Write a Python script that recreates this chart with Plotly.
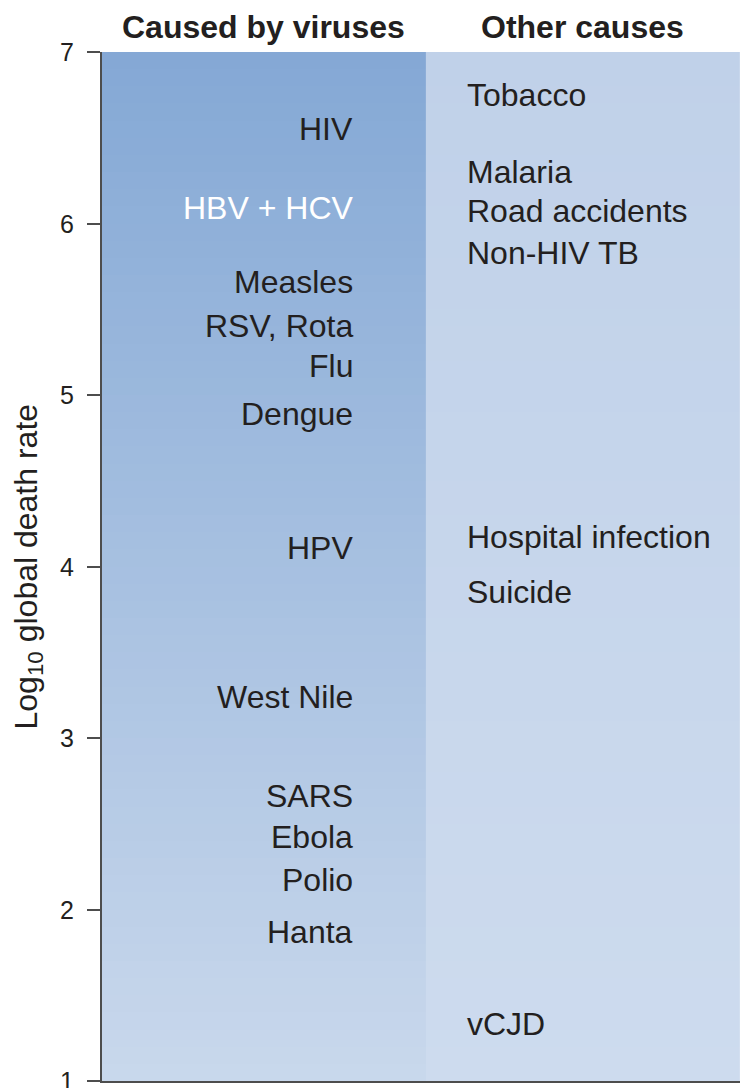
import numpy as np
import plotly.graph_objects as go

# log10 global death rate
virus_names = ['HIV', 'HBV + HCV', 'Measles', 'RSV, Rota', 'Flu', 'Dengue',
               'HPV', 'West Nile', 'SARS', 'Ebola', 'Polio', 'Hanta']
virus_rates = [6.55, 6.09, 5.66, 5.40, 5.17, 4.89,
               4.11, 3.24, 2.66, 2.42, 2.17, 1.87]

other_names = ['Tobacco', 'Malaria', 'Road accidents', 'Non-HIV TB',
               'Hospital infection', 'Suicide', 'vCJD']
other_rates = [6.75, 6.30, 6.07, 5.83, 4.17, 3.85, 1.33]

column_titles = ['Caused by viruses', 'Other causes']
y_ticks = [1, 2, 3, 4, 5, 6, 7]

FONT = 'Liberation Sans, Arial, Helvetica, sans-serif'
TEXT = '#231f20'
AXIS = '#4d4d4d'

# vertical shading bands for the two columns
edges = np.linspace(1, 7, 61)
centres = (edges[:-1] + edges[1:]) / 2
z = [[c] for c in centres]

fig = go.Figure()
fig.add_trace(go.Heatmap(
    x=[0, 1], y=edges, z=z, zmin=1, zmax=7,
    colorscale=[[0, '#c9d8ec'], [1, '#84a8d5']],
    showscale=False, hoverinfo='skip'))
fig.add_trace(go.Heatmap(
    x=[1, 1.97], y=edges, z=z, zmin=1, zmax=7,
    colorscale=[[0, '#cddbee'], [1, '#c0d1e9']],
    showscale=False, hoverinfo='skip'))

annotations = []
for name, rate in zip(virus_names, virus_rates):
    annotations.append(dict(
        x=0.782, y=rate, xref='x', yref='y', text=name, showarrow=False,
        xanchor='right', yanchor='middle',
        font=dict(size=32, family=FONT,
                  color='white' if name == 'HBV + HCV' else TEXT)))
for name, rate in zip(other_names, other_rates):
    annotations.append(dict(
        x=1.12, y=rate, xref='x', yref='y', text=name, showarrow=False,
        xanchor='left', yanchor='middle',
        font=dict(size=32, family=FONT, color=TEXT)))
for title, xc in zip(column_titles, [0.5, 1.485]):
    annotations.append(dict(
        x=xc, y=1, xref='x', yref='paper', yshift=25, text='<b>%s</b>' % title,
        showarrow=False, xanchor='center', yanchor='middle',
        font=dict(size=32, family=FONT, color=TEXT)))

# tick labels as annotations so the bottom "1" is not dropped at the edge
for t in y_ticks:
    annotations.append(dict(
        x=0, y=t, xref='paper', yref='y', xshift=-26, text=str(t),
        showarrow=False, xanchor='right', yanchor='middle',
        font=dict(size=25, family=FONT, color=TEXT)))

annotations.append(dict(
    x=0, y=0.5, xref='paper', yref='paper', xshift=-74,
    text='Log<sub>10</sub> global death rate', textangle=-90,
    showarrow=False, xanchor='center', yanchor='middle',
    font=dict(size=32, family=FONT, color=TEXT)))

fig.update_layout(
    width=740,
    height=1088,
    margin=dict(l=102, r=0, t=52, b=7),
    plot_bgcolor='white',
    paper_bgcolor='white',
    showlegend=False,
    annotations=annotations,
    xaxis=dict(
        range=[0, 1.97],
        showticklabels=False,
        showgrid=False,
        zeroline=False,
        showline=True,
        linecolor=AXIS,
        linewidth=2,
        ticks='',
    ),
    yaxis=dict(
        range=[1, 7],
        tickvals=y_ticks,
        showticklabels=False,
        showgrid=False,
        zeroline=False,
        showline=True,
        linecolor=AXIS,
        linewidth=1.5,
        ticks='outside',
        ticklen=13,
        tickwidth=1.5,
        tickcolor=AXIS,
    ),
)

fig.write_html('out.html', config={'displayModeBar': False},
               post_script="document.body.style.margin='0';")
